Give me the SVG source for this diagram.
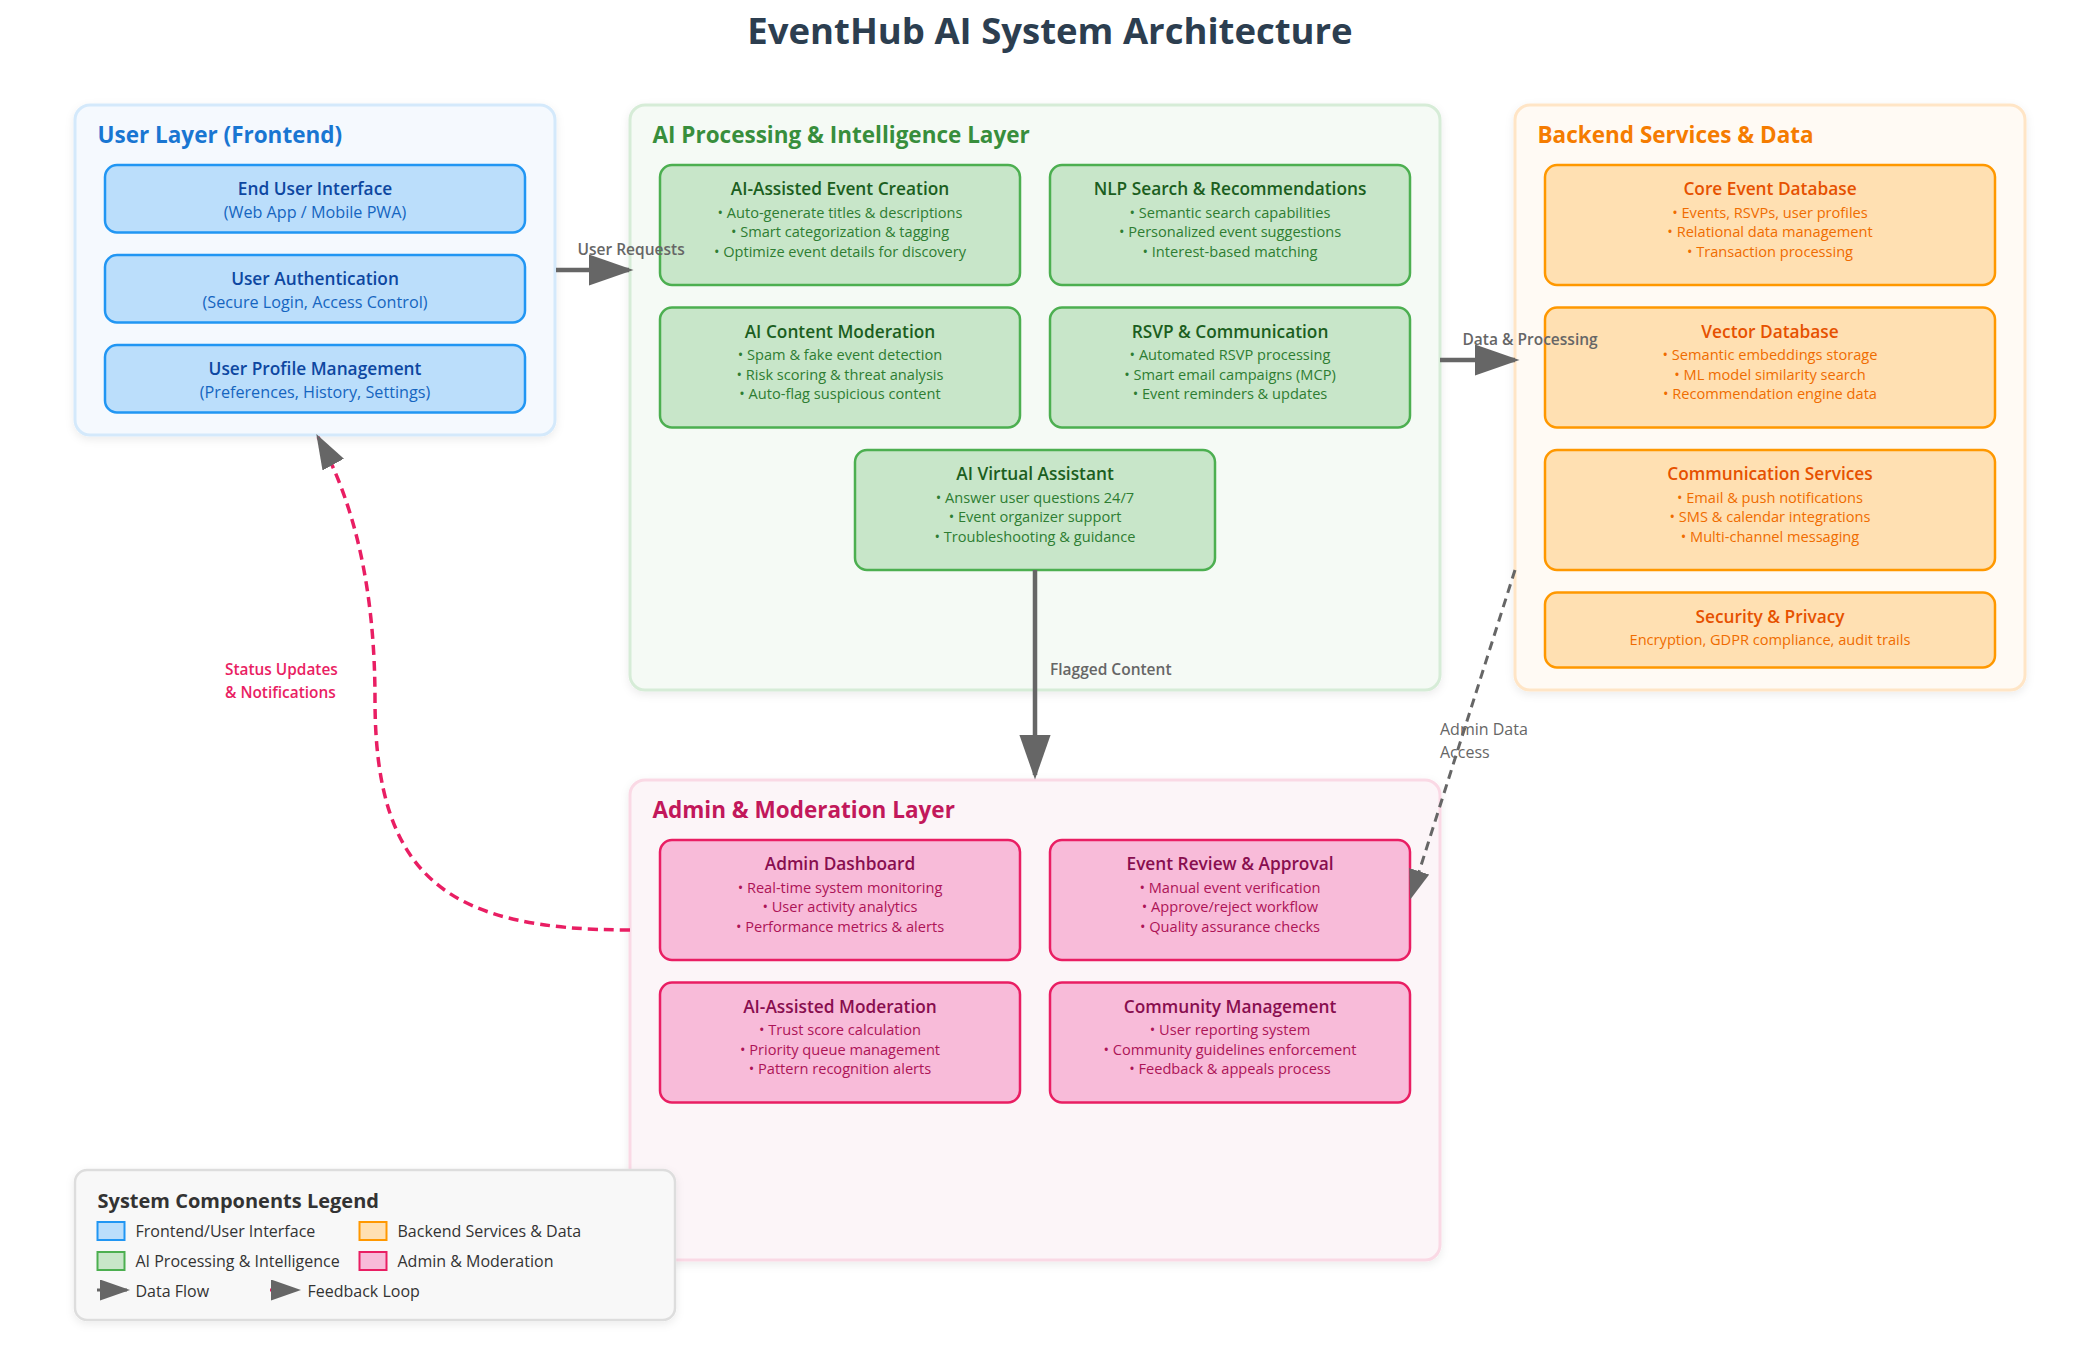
<svg xmlns="http://www.w3.org/2000/svg" width="2100" height="1350" viewBox="0 0 2100 1350">
<defs>
<style>
text { font-family: "Open Sans", "Noto Sans", "Liberation Sans", sans-serif; }
.title { font-size: 36.5px; font-weight: 700; fill: #2c3e50; text-anchor: middle; }
.lt { font-size: 22.5px; font-weight: 700; }
.bt { font-size: 17.3px; font-weight: 600; text-anchor: middle; }
.bl { font-size: 14.6px; text-anchor: middle; }
.sub { font-size: 16.2px; }
.cont { stroke-width: 3; filter: url(#sh); }
.box { stroke-width: 2.5; }
.u-c { fill: #f5f9fe; stroke: #d4e9fb; }
.a-c { fill: #f5faf5; stroke: #d6ecd7; }
.b-c { fill: #fffaf4; stroke: #ffe5c6; }
.m-c { fill: #fcf5f8; stroke: #fad9e5; }
.u-b { fill: #bbdefb; stroke: #2196f3; }
.a-b { fill: #c8e6c9; stroke: #4caf50; }
.b-b { fill: #ffe0b2; stroke: #ff9800; }
.m-b { fill: #f8bbd9; stroke: #e91e63; }
.u-lt { fill: #1976d2; } .u-bt { fill: #0d47a1; } .u-bl { fill: #1565c0; }
.a-lt { fill: #388e3c; } .a-bt { fill: #1b5e20; } .a-bl { fill: #2e7d32; }
.b-lt { fill: #f57c00; } .b-bt { fill: #e65100; } .b-bl { fill: #ef6c00; }
.m-lt { fill: #c2185b; } .m-bt { fill: #880e4f; } .m-bl { fill: #ad1457; }
.flow { stroke: #666; stroke-width: 4.5; fill: none; marker-end: url(#arr); }
.dflow { stroke: #666; stroke-width: 3; fill: none; stroke-dasharray: 9 6; marker-end: url(#arr); }
.fb { stroke: #e91e63; stroke-width: 3.5; fill: none; stroke-dasharray: 10 6; marker-end: url(#arr); }
.cl { font-size: 15.5px; font-weight: 600; fill: #666; }
.cl2 { font-size: 16px; font-weight: 500; fill: #666; }
.fl { font-size: 15.4px; font-weight: 600; fill: #e91e63; }
.lg-t { font-size: 20px; font-weight: 700; fill: #333; }
.lg-l { font-size: 16px; fill: #333; }
</style>
<marker id="arr" viewBox="0 0 10 7" refX="9" refY="3.5" markerWidth="10" markerHeight="7" orient="auto">
<path d="M0,0 L10,3.5 L0,7 z" fill="#666"/>
</marker>
<filter id="sh" x="-5%" y="-5%" width="110%" height="115%">
<feDropShadow dx="0" dy="3" stdDeviation="4" flood-color="#000" flood-opacity="0.08"/>
</filter>
</defs>
<rect width="2100" height="1350" fill="#ffffff"/>
<text class="title" x="1050" y="44">EventHub AI System Architecture</text>

<g id="user-layer">
<rect class="cont u-c" x="75" y="105" width="480" height="330" rx="15"/>
<text class="lt u-lt" x="97.5" y="143">User Layer (Frontend)</text>
<g id="end-user-interface">
<rect class="box u-b" x="105" y="165" width="420" height="67.5" rx="12"/>
<text class="bt u-bt" x="315" y="195">End User Interface</text>
<text class="bl sub u-bl" x="315" y="218">(Web App / Mobile PWA)</text>
</g>
<g id="user-authentication">
<rect class="box u-b" x="105" y="255" width="420" height="67.5" rx="12"/>
<text class="bt u-bt" x="315" y="285">User Authentication</text>
<text class="bl sub u-bl" x="315" y="308">(Secure Login, Access Control)</text>
</g>
<g id="user-profile">
<rect class="box u-b" x="105" y="345" width="420" height="67.5" rx="12"/>
<text class="bt u-bt" x="315" y="375">User Profile Management</text>
<text class="bl sub u-bl" x="315" y="398">(Preferences, History, Settings)</text>
</g>
</g>

<g id="ai-layer">
<rect class="cont a-c" x="630" y="105" width="810" height="585" rx="15"/>
<text class="lt a-lt" x="652.5" y="143">AI Processing &amp; Intelligence Layer</text>
<g id="ai-event-creation">
<rect class="box a-b" x="660" y="165" width="360" height="120" rx="12"/>
<text class="bt a-bt" x="840" y="195">AI-Assisted Event Creation</text>
<text class="bl a-bl" x="840" y="217.5">• Auto-generate titles &amp; descriptions</text>
<text class="bl a-bl" x="840" y="237">• Smart categorization &amp; tagging</text>
<text class="bl a-bl" x="840" y="256.5">• Optimize event details for discovery</text>
</g>
<g id="nlp-search">
<rect class="box a-b" x="1050" y="165" width="360" height="120" rx="12"/>
<text class="bt a-bt" x="1230" y="195">NLP Search &amp; Recommendations</text>
<text class="bl a-bl" x="1230" y="217.5">• Semantic search capabilities</text>
<text class="bl a-bl" x="1230" y="237">• Personalized event suggestions</text>
<text class="bl a-bl" x="1230" y="256.5">• Interest-based matching</text>
</g>
<g id="ai-content-moderation">
<rect class="box a-b" x="660" y="307.5" width="360" height="120" rx="12"/>
<text class="bt a-bt" x="840" y="337.5">AI Content Moderation</text>
<text class="bl a-bl" x="840" y="360">• Spam &amp; fake event detection</text>
<text class="bl a-bl" x="840" y="379.5">• Risk scoring &amp; threat analysis</text>
<text class="bl a-bl" x="840" y="399">• Auto-flag suspicious content</text>
</g>
<g id="rsvp-communication">
<rect class="box a-b" x="1050" y="307.5" width="360" height="120" rx="12"/>
<text class="bt a-bt" x="1230" y="337.5">RSVP &amp; Communication</text>
<text class="bl a-bl" x="1230" y="360">• Automated RSVP processing</text>
<text class="bl a-bl" x="1230" y="379.5">• Smart email campaigns (MCP)</text>
<text class="bl a-bl" x="1230" y="399">• Event reminders &amp; updates</text>
</g>
<g id="ai-virtual-assistant">
<rect class="box a-b" x="855" y="450" width="360" height="120" rx="12"/>
<text class="bt a-bt" x="1035" y="480">AI Virtual Assistant</text>
<text class="bl a-bl" x="1035" y="502.5">• Answer user questions 24/7</text>
<text class="bl a-bl" x="1035" y="522">• Event organizer support</text>
<text class="bl a-bl" x="1035" y="541.5">• Troubleshooting &amp; guidance</text>
</g>
</g>

<g id="backend-layer">
<rect class="cont b-c" x="1515" y="105" width="510" height="585" rx="15"/>
<text class="lt b-lt" x="1537.5" y="143">Backend Services &amp; Data</text>
<g id="core-event-db">
<rect class="box b-b" x="1545" y="165" width="450" height="120" rx="12"/>
<text class="bt b-bt" x="1770" y="195">Core Event Database</text>
<text class="bl b-bl" x="1770" y="217.5">• Events, RSVPs, user profiles</text>
<text class="bl b-bl" x="1770" y="237">• Relational data management</text>
<text class="bl b-bl" x="1770" y="256.5">• Transaction processing</text>
</g>
<g id="vector-db">
<rect class="box b-b" x="1545" y="307.5" width="450" height="120" rx="12"/>
<text class="bt b-bt" x="1770" y="337.5">Vector Database</text>
<text class="bl b-bl" x="1770" y="360">• Semantic embeddings storage</text>
<text class="bl b-bl" x="1770" y="379.5">• ML model similarity search</text>
<text class="bl b-bl" x="1770" y="399">• Recommendation engine data</text>
</g>
<g id="communication-services">
<rect class="box b-b" x="1545" y="450" width="450" height="120" rx="12"/>
<text class="bt b-bt" x="1770" y="480">Communication Services</text>
<text class="bl b-bl" x="1770" y="502.5">• Email &amp; push notifications</text>
<text class="bl b-bl" x="1770" y="522">• SMS &amp; calendar integrations</text>
<text class="bl b-bl" x="1770" y="541.5">• Multi-channel messaging</text>
</g>
<g id="security-privacy">
<rect class="box b-b" x="1545" y="592.5" width="450" height="75" rx="12"/>
<text class="bt b-bt" x="1770" y="622.5">Security &amp; Privacy</text>
<text class="bl b-bl" x="1770" y="645">Encryption, GDPR compliance, audit trails</text>
</g>
</g>

<g id="admin-layer">
<rect class="cont m-c" x="630" y="780" width="810" height="480" rx="15"/>
<text class="lt m-lt" x="652.5" y="818">Admin &amp; Moderation Layer</text>
<g id="admin-dashboard">
<rect class="box m-b" x="660" y="840" width="360" height="120" rx="12"/>
<text class="bt m-bt" x="840" y="870">Admin Dashboard</text>
<text class="bl m-bl" x="840" y="892.5">• Real-time system monitoring</text>
<text class="bl m-bl" x="840" y="912">• User activity analytics</text>
<text class="bl m-bl" x="840" y="931.5">• Performance metrics &amp; alerts</text>
</g>
<g id="event-review">
<rect class="box m-b" x="1050" y="840" width="360" height="120" rx="12"/>
<text class="bt m-bt" x="1230" y="870">Event Review &amp; Approval</text>
<text class="bl m-bl" x="1230" y="892.5">• Manual event verification</text>
<text class="bl m-bl" x="1230" y="912">• Approve/reject workflow</text>
<text class="bl m-bl" x="1230" y="931.5">• Quality assurance checks</text>
</g>
<g id="ai-moderation">
<rect class="box m-b" x="660" y="982.5" width="360" height="120" rx="12"/>
<text class="bt m-bt" x="840" y="1012.5">AI-Assisted Moderation</text>
<text class="bl m-bl" x="840" y="1035">• Trust score calculation</text>
<text class="bl m-bl" x="840" y="1054.5">• Priority queue management</text>
<text class="bl m-bl" x="840" y="1074">• Pattern recognition alerts</text>
</g>
<g id="community-management">
<rect class="box m-b" x="1050" y="982.5" width="360" height="120" rx="12"/>
<text class="bt m-bt" x="1230" y="1012.5">Community Management</text>
<text class="bl m-bl" x="1230" y="1035">• User reporting system</text>
<text class="bl m-bl" x="1230" y="1054.5">• Community guidelines enforcement</text>
<text class="bl m-bl" x="1230" y="1074">• Feedback &amp; appeals process</text>
</g>
</g>

<g id="connectors">
<line class="flow" x1="556" y1="270" x2="629" y2="270"/>
<text class="cl" x="577.5" y="255">User Requests</text>
<line class="flow" x1="1440" y1="360" x2="1515" y2="360"/>
<text class="cl" x="1462.5" y="345">Data &amp; Processing</text>
<line class="flow" x1="1035" y1="570" x2="1035" y2="775"/>
<text class="cl" x="1050" y="675">Flagged Content</text>
<line class="dflow" x1="1515" y1="570" x2="1411" y2="897"/>
<text class="cl2" x="1440" y="735">Admin Data</text>
<text class="cl2" x="1440" y="757.5">Access</text>
<path class="fb" d="M630,930 C450,930 375,880 375,700 Q375,540 318,437"/>
<text class="fl" x="225" y="675">Status Updates</text>
<text class="fl" x="225" y="697.5">&amp; Notifications</text>
</g>

<g id="legend">
<rect x="75" y="1170" width="600" height="150" rx="12" fill="#f8f8f8" stroke="#dddddd" stroke-width="2.5" filter="url(#sh)"/>
<text class="lg-t" x="97.5" y="1208">System Components Legend</text>
<rect x="97.5" y="1222" width="27" height="18" fill="#bbdefb" stroke="#2196f3" stroke-width="2"/>
<text class="lg-l" x="135.5" y="1237">Frontend/User Interface</text>
<rect x="359.5" y="1222" width="27" height="18" fill="#ffe0b2" stroke="#ff9800" stroke-width="2"/>
<text class="lg-l" x="397.5" y="1237">Backend Services &amp; Data</text>
<rect x="97.5" y="1252" width="27" height="18" fill="#c8e6c9" stroke="#4caf50" stroke-width="2"/>
<text class="lg-l" x="135.5" y="1267">AI Processing &amp; Intelligence</text>
<rect x="359.5" y="1252" width="27" height="18" fill="#f8bbd9" stroke="#e91e63" stroke-width="2"/>
<text class="lg-l" x="397.5" y="1267">Admin &amp; Moderation</text>
<line x1="97" y1="1290" x2="127" y2="1290" stroke="#666" stroke-width="3" marker-end="url(#arr)"/>
<text class="lg-l" x="135.5" y="1297">Data Flow</text>
<line x1="270" y1="1290" x2="298" y2="1290" stroke="#e91e63" stroke-width="3" stroke-dasharray="9 6" marker-end="url(#arr)"/>
<text class="lg-l" x="307.5" y="1297">Feedback Loop</text>
</g>
</svg>
